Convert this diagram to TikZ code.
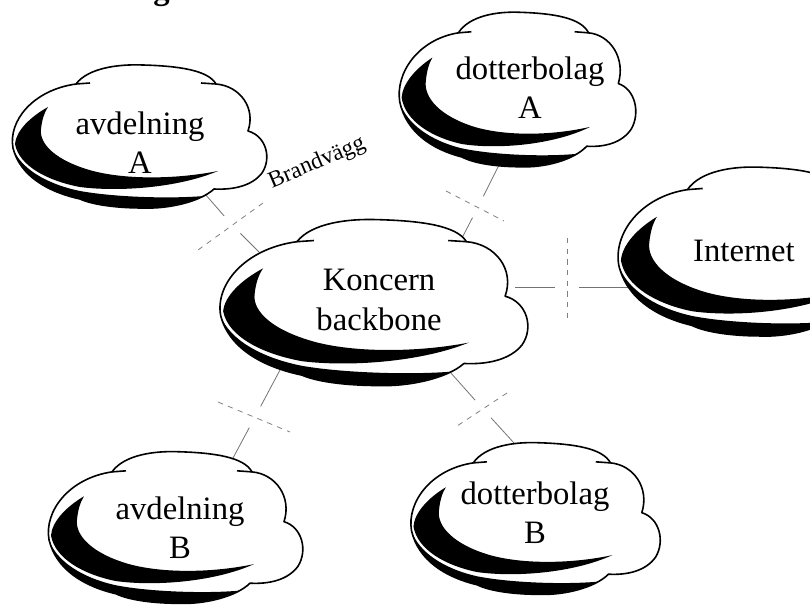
\documentclass[tikz,border=0pt]{standalone}
\usepackage{fontspec}
\setmainfont{Liberation Serif}
\usepackage{tikz}
\usetikzlibrary{positioning}

\begin{document}
\begin{tikzpicture}[x=0.75pt,y=-0.75pt,line join=round]
      \tikzset{etikett/.style={align=center,inner sep=0pt,font=\fontsize{24.5}{29.5}\selectfont}}
      \tikzset{lanka/.style={draw=black!55,line width=0.6pt}}
      \tikzset{brandvagg/.style={draw=black!50,line width=0.6pt,dash pattern=on 4pt off 4pt}}
      \tikzset{moln/.pic={
        \filldraw[fill=white,line width=1.2pt]
          (-62,-52) .. controls (-50,-68) and (-20,-72) .. (5,-71)
          .. controls (40,-70) and (70,-66) .. (78,-52)
          .. controls (102,-50) and (118,-28) .. (110,-5)
          .. controls (128,0) and (134,22) .. (124,37)
          .. controls (114,50) and (95,54) .. (76,53)
          .. controls (62,66) and (30,73) .. (5,72)
          .. controls (-20,72) and (-45,69) .. (-58,63)
          .. controls (-90,56) and (-118,40) .. (-125,12)
          .. controls (-130,-15) and (-105,-46) .. (-62,-52) -- cycle;
        \draw[line width=1.2pt] (-62,-52) -- (-48,-53) (78,-52) -- (63,-53);
        % skuggan
        \fill (-125,12) .. controls (-118,40) and (-90,56) .. (-58,63)
          .. controls (-45,69) and (-20,72) .. (5,72)
          .. controls (30,72) and (50,67) .. (66,60)
          .. controls (30,63) and (-25,61) .. (-58,55)
          .. controls (-92,48) and (-118,32) .. (-125,12) -- cycle;
        \fill (-90,-29) .. controls (-108,-19) and (-122,-5) .. (-123,8)
          .. controls (-119,30) and (-90,45) .. (-58,51)
          .. controls (-20,56) and (40,52) .. (80,35)
          .. controls (40,43) and (-10,44) .. (-45,35)
          .. controls (-82,25) and (-99,8) .. (-97,-7)
          .. controls (-96,-16) and (-94,-23) .. (-90,-29) -- cycle;
      }}
      \useasboundingbox (0,0) rectangle (810,606);
      \node[font=\bfseries\fontsize{24.5}{29.5}\selectfont,inner sep=0pt,anchor=base east] (rubrik) at (170,0) {Dotterbolag};

      \coordinate (avdA-k) at (205,194);  \coordinate (kb-avdA) at (259,252);
      \coordinate (dotA-k) at (500,163);  \coordinate (kb-dotA) at (462,238);
      \coordinate (kb-inet) at (515,287); \coordinate (inet-k) at (647,287);
      \coordinate (kb-avdB) at (280,370); \coordinate (avdB-k) at (233,458);
      \coordinate (kb-dotB) at (450,372); \coordinate (dotB-k) at (514,443);
      \coordinate (fw1) at (232,225); \coordinate (fw2) at (478,207);
      \coordinate (fw3) at (567,287); \coordinate (fw4) at (255,417);
      \coordinate (fw5) at (483,409);

      \draw[lanka,shorten >=9pt] (avdA-k) -- (fw1);
      \draw[lanka,shorten <=9pt] (fw1) -- (kb-avdA);
      \draw[lanka,shorten >=9pt] (dotA-k) -- (fw2);
      \draw[lanka,shorten <=9pt] (fw2) -- (kb-dotA);
      \draw[lanka,shorten >=9pt] (kb-inet) -- (fw3);
      \draw[lanka,shorten <=9pt] (fw3) -- (inet-k);
      \draw[lanka,shorten >=9pt] (kb-avdB) -- (fw4);
      \draw[lanka,shorten <=9pt] (fw4) -- (avdB-k);
      \draw[lanka,shorten >=9pt] (kb-dotB) -- (fw5);
      \draw[lanka,shorten <=9pt] (fw5) -- (dotB-k);

      \coordinate (fw1a) at (263,203); \coordinate (fw1b) at (198,250);
      \coordinate (fw2a) at (446,191); \coordinate (fw2b) at (504,221);
      \coordinate (fw3a) at (567,238); \coordinate (fw3b) at (567,323);
      \coordinate (fw4a) at (218,402); \coordinate (fw4b) at (290,432);
      \coordinate (fw5a) at (507,393); \coordinate (fw5b) at (457,426);
      \draw[brandvagg] (fw1a) -- (fw1b);
      \draw[brandvagg] (fw2a) -- (fw2b);
      \draw[brandvagg] (fw3a) -- (fw3b);
      \draw[brandvagg] (fw4a) -- (fw4b);
      \draw[brandvagg] (fw5a) -- (fw5b);

      \pic[xscale=1.0,yscale=1.0] at (138,136) {moln};
      \pic[xscale=0.93,yscale=1.08] at (516,89) {moln};
      \pic[xscale=1.21,yscale=1.16] at (372,302) {moln};
      \pic[xscale=1.09,yscale=1.18] at (755,251) {moln};
      \pic[xscale=1.0,yscale=1.06] at (174,527) {moln};
      \pic[xscale=0.98,yscale=1.06] at (534,518) {moln};

      \node[etikett] (avdA) at (140,143) {avdelning\\A};
      \node[etikett] (dotA) at (530,88) {dotterbolag\\A};
      \node[etikett] (kb) at (379,300) {Koncern\\backbone};
      \node[etikett] (inet) at (744,251) {Internet};
      \node[etikett] (avdB) at (180,528) {avdelning\\B};
      \node[etikett] (dotB) at (535,513) {dotterbolag\\B};
      \node[font=\fontsize{17.5}{20}\selectfont,inner sep=0pt,rotate=23] (bv) at (317,163) {Brandvägg};
\end{tikzpicture}
\end{document}
